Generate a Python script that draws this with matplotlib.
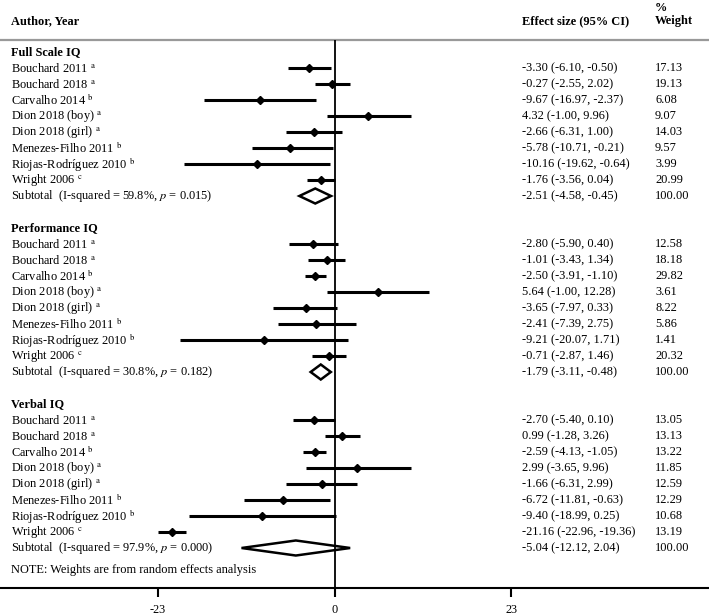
import matplotlib
matplotlib.use("Agg")
import matplotlib.pyplot as plt
from matplotlib.patches import Polygon

plt.rcParams['font.family'] = ['Liberation Serif', 'DejaVu Serif']
plt.rcParams['mathtext.fontset'] = 'stix'

studies = ["Bouchard 2011", "Bouchard 2018", "Carvalho 2014", "Dion 2018 (boy)",
           "Dion 2018 (girl)", "Menezes-Filho 2011", "Riojas-Rodríguez 2010", "Wright 2006"]
notes = ["a", "a", "b", "a", "a", "b", "b", "c"]

groups = ["Full Scale IQ", "Performance IQ", "Verbal IQ"]

full_est = [-3.30, -0.27, -9.67, 4.32, -2.66, -5.78, -10.16, -1.76]
full_lo = [-6.10, -2.55, -16.97, -1.00, -6.31, -10.71, -19.62, -3.56]
full_hi = [-0.50, 2.02, -2.37, 9.96, 1.00, -0.21, -0.64, 0.04]
full_w = [17.13, 19.13, 6.08, 9.07, 14.03, 9.57, 3.99, 20.99]

perf_est = [-2.80, -1.01, -2.50, 5.64, -3.65, -2.41, -9.21, -0.71]
perf_lo = [-5.90, -3.43, -3.91, -1.00, -7.97, -7.39, -20.07, -2.87]
perf_hi = [0.40, 1.34, -1.10, 12.28, 0.33, 2.75, 1.71, 1.46]
perf_w = [12.58, 18.18, 29.82, 3.61, 8.22, 5.86, 1.41, 20.32]

verb_est = [-2.70, 0.99, -2.59, 2.99, -1.66, -6.72, -9.40, -21.16]
verb_lo = [-5.40, -1.28, -4.13, -3.65, -6.31, -11.81, -18.99, -22.96]
verb_hi = [0.10, 3.26, -1.05, 9.96, 2.99, -0.63, 0.25, -19.36]
verb_w = [13.05, 13.13, 13.22, 11.85, 12.59, 12.29, 10.68, 13.19]

sub_est = [-2.51, -1.79, -5.04]
sub_lo = [-4.58, -3.11, -12.12]
sub_hi = [-0.45, -0.48, 2.04]
i_sq = ["59.8", "30.8", "97.9"]
p_val = ["0.015", "0.182", "0.000"]

xticks = [-23, 0, 23]

est_all = [full_est, perf_est, verb_est]
lo_all = [full_lo, perf_lo, verb_lo]
hi_all = [full_hi, perf_hi, verb_hi]
w_all = [full_w, perf_w, verb_w]

fig = plt.figure(figsize=(7.09, 6.16), dpi=100)
ax = fig.add_axes([0, 0, 1, 1])
ax.set_xlim(-43.59, 48.80)
ax.set_ylim(35.25, -3.25)
ax.patch.set_alpha(0)
for s in ['top', 'left', 'right']:
    ax.spines[s].set_visible(False)
ax.spines['bottom'].set_position(('data', 33.5))
ax.spines['bottom'].set_linewidth(1.5)
ax.set_yticks([])
ax.set_xticks(xticks)
ax.set_xticklabels([str(t) for t in xticks])
ax.tick_params(axis='x', direction='out', length=6.5, width=1.5, pad=5, labelsize=8.8)

tr = ax.get_yaxis_transform()
fs = 8.9
x_name, x_eff, x_w = 0.0155, 0.736, 0.924

# header
ax.text(x_name, -1.94, "Author, Year", transform=tr, fontsize=fs, fontweight='bold', va='center')
ax.text(x_eff, -1.94, "Effect size (95% CI)", transform=tr, fontsize=fs, fontweight='bold', va='center')
ax.text(x_w, -2.75, "%", transform=tr, fontsize=fs, fontweight='bold', va='center')
ax.text(x_w, -1.94, "Weight", transform=tr, fontsize=fs, fontweight='bold', va='center')
ax.axhline(-0.75, color='#999999', lw=1.6)

# zero line
ax.vlines(0, -0.75, 33.5, color='black', lw=1.3)

row = 0
for g in range(3):
    ax.text(x_name, row, groups[g], transform=tr, fontsize=fs, fontweight='bold', va='center')
    row += 1
    for i in range(len(studies)):
        ax.text(x_name, row, studies[i] + r" $^{\mathrm{" + notes[i] + "}}$",
                transform=tr, fontsize=fs, va='center')
        ax.hlines(row, lo_all[g][i], hi_all[g][i], color='black', lw=2.2)
        ax.plot(est_all[g][i], row, marker='D', color='black', markersize=4.5)
        ax.text(x_eff, row, f"{est_all[g][i]:.2f} ({lo_all[g][i]:.2f}, {hi_all[g][i]:.2f})",
                transform=tr, fontsize=fs, va='center')
        ax.text(x_w, row, f"{w_all[g][i]:.2f}", transform=tr, fontsize=fs, va='center')
        row += 1
    ax.text(x_name, row, "Subtotal  (I-squared = " + i_sq[g] + "%, $p$ = " + p_val[g] + ")",
            transform=tr, fontsize=fs, va='center')
    dia = Polygon([[sub_lo[g], row], [sub_est[g], row - 0.47], [sub_hi[g], row],
                   [sub_est[g], row + 0.47]], closed=True, facecolor='white',
                  edgecolor='black', lw=1.8)
    ax.add_patch(dia)
    ax.text(x_eff, row, f"{sub_est[g]:.2f} ({sub_lo[g]:.2f}, {sub_hi[g]:.2f})",
            transform=tr, fontsize=fs, va='center')
    ax.text(x_w, row, "100.00", transform=tr, fontsize=fs, va='center')
    row += 2

ax.text(x_name, 32.4, "NOTE: Weights are from random effects analysis", transform=tr,
        fontsize=fs, va='center')

fig.savefig("out.png", dpi=100)
